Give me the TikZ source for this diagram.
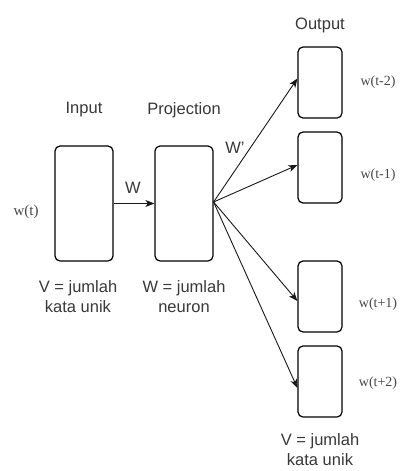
\documentclass[tikz,border=0pt]{standalone}
\usepackage{fontspec}
\setmainfont{Liberation Serif}
\setsansfont{Liberation Sans}
\usetikzlibrary{arrows.meta}
\begin{document}
\begin{tikzpicture}[x=1pt,y=-1pt,
  box/.style={draw=black,line width=1.2pt,rounded corners=5pt,inner sep=0pt},
  inbox/.style={box,minimum width=58pt,minimum height=115pt},
  outbox/.style={box,minimum width=44pt,minimum height=71pt},
  lbl/.style={font=\sffamily\fontsize{16.5}{20}\selectfont,text=black!78,align=center,inner sep=0pt},
  wlbl/.style={font=\rmfamily\fontsize{14}{16}\selectfont,text=black!72,inner sep=0pt},
  arr/.style={draw=black!90,line width=0.9pt,-{Stealth[length=9pt,width=7pt,inset=2.5pt]}}]
\useasboundingbox (0,0) rectangle (406,471);

% input and projection layers
\node[inbox] (inp) at (84,203.5) {};
\node[inbox] (proj) at (184,203.5) {};

% output layers
\node[outbox] (o1) at (320,82.5) {};
\node[outbox] (o2) at (320,167.5) {};
\node[outbox] (o3) at (320,296.5) {};
\node[outbox] (o4) at (320,381.5) {};

% layer titles
\node[lbl] (tin) at (84,110) {Input};
\node[lbl] (tproj) at (184,110) {Projection};
\node[lbl] (tout) at (320,25) {Output};

% size notes
\node[lbl] (nin) at (78,297) {V = jumlah\\kata unik};
\node[lbl] (nproj) at (184,297) {W = jumlah\\neuron};
\node[lbl] (nout) at (320,450) {V = jumlah\\kata unik};

% word labels
\node[wlbl,font=\rmfamily\fontsize{15}{16}\selectfont] (wt) at (26,212) {w(t)};
\node[wlbl] (w1) at (378,82) {w(t-2)};
\node[wlbl] (w2) at (378,175) {w(t-1)};
\node[wlbl] (w3) at (378,304) {w(t+1)};
\node[wlbl] (w4) at (378,383) {w(t+2)};

% weight labels
\node[lbl] (lw) at (133,188) {W};
\node[lbl] (lw2) at (235,148) {W'};

% connections
\draw[arr] (inp.east) -- (proj.west);
\coordinate (src) at ([yshift=1.5pt]proj.east);
\draw[arr] (src) -- ([yshift=4pt]o1.west);
\draw[arr] (src) -- ([yshift=2.5pt]o2.west);
\draw[arr] (src) -- ([yshift=-4.5pt]o3.west);
\draw[arr] (src) -- ([yshift=-6.5pt]o4.west);
\end{tikzpicture}
\end{document}
